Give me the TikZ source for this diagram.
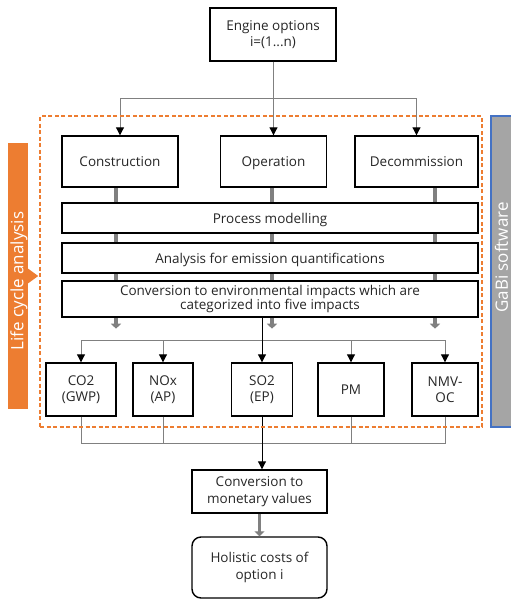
\documentclass[tikz,border=0pt]{standalone}
\usepackage{fontspec}
\setmainfont{Open Sans}
\usetikzlibrary{arrows.meta,backgrounds}

\definecolor{lcaorange}{HTML}{ED7D31}
\definecolor{gabigray}{HTML}{A5A5A5}
\definecolor{gabiblue}{HTML}{4472C4}
\definecolor{linegray}{HTML}{808080}
\definecolor{txtgray}{HTML}{262626}

\begin{document}
\begin{tikzpicture}[x=1pt,y=-1pt,>={Triangle[width=8pt,length=8pt,color=black]},
  font=\fontsize{13.5}{16.5}\selectfont,
  box/.style={draw=black,line width=1.4pt,fill=white,text=txtgray,align=center,
    inner sep=0pt,minimum height=#1},
  box/.default=51pt,
  oneline/.style={text height=12.5pt,text depth=2pt},
  wide/.style={box=30pt,oneline,minimum width=416pt},
  gas/.style={box=53pt},
  link/.style={draw=linegray,line width=1pt},
  fat/.style={draw=linegray,line width=3.5pt,
    -{Triangle[width=10pt,length=5pt,color=linegray]}},
  band/.style={rotate=90,text=white,inner sep=0pt,font=\fontsize{17}{20}\selectfont}]
  \clip (0,0) rectangle (511,600);

  % top level
  \node[box=53pt,minimum width=126pt] (engine) at (273,34.5) {Engine options\\i=(1...n)};
  \node[box,oneline,minimum width=116pt] (constr) at (120,161.5) {Construction};
  \node[box,oneline,minimum width=106pt] (oper) at (273.5,161.5) {Operation};
  \node[box,oneline,minimum width=123pt] (decom) at (416.5,161.5) {Decommission};
  \coordinate (split1) at (273,98);
  \draw[link] (engine) -- (split1);
  \draw[link,->] (split1) -| (constr);
  \draw[link,->] (split1) -| (oper);
  \draw[link,->] (split1) -| (decom);

  % LCA steps
  \node[wide] (proc) at (270,218) {Process modelling};
  \node[wide] (anal) at (270,258) {Analysis for emission quantifications};
  \node[box=36pt,minimum width=416pt] (conv) at (270,299)
    {Conversion to environmental impacts which are\\[-3pt]categorized into five impacts};
  \begin{scope}[on background layer]
    \draw[fat] ([xshift=-4pt]constr.south) -- ++(0,141);
    \draw[fat] ([xshift=-1.5pt]oper.south) -- ++(0,141);
    \draw[fat] ([xshift=18.5pt]decom.south) -- ++(0,141);
  \end{scope}

  % impacts
  \node[gas,minimum width=70pt] (co2) at (81,389.5) {CO2\\(GWP)};
  \node[gas,minimum width=60pt] (nox) at (163,389.5) {NOx\\(AP)};
  \node[gas,minimum width=61pt] (so2) at (262,389.5) {SO2\\(EP)};
  \node[gas,oneline,minimum width=66pt] (pm) at (351,389.5) {PM};
  \node[gas,minimum width=66pt] (nmvoc) at (445,389.5) {NMV-\\OC};
  \coordinate (split2) at (262,340);
  \draw[link,->] (split2) -| (co2);
  \draw[link,->] (split2) -| (nox);
  \draw[link,->] (split2) -| (pm);
  \draw[link,->] (split2) -| (nmvoc);
  \draw[line width=1pt,->] (conv.south -| so2.north) -- (so2.north);

  % monetary part
  \node[box=43pt,minimum width=135pt] (money) at (259.5,491.5) {Conversion to\\monetary values};
  \node[box=61pt,minimum width=135pt,rounded corners=9pt] (cost) at (259.5,567.5)
    {Holistic costs of\\option i};
  \coordinate (join) at (262,443);
  \draw[link] (co2) |- (join);
  \draw[link] (nox) |- (join);
  \draw[link] (pm) |- (join);
  \draw[link] (nmvoc) |- (join);
  \draw[line width=1pt,->] (so2.south) -- (so2.south |- money.north);
  \draw[fat] (money) -- (cost);

  % frames and side bands
  \node[draw=lcaorange,line width=1.3pt,dash pattern=on 4pt off 2.5pt,
    minimum width=442pt,minimum height=311pt] (lca) at (261,271.5) {};
  \node[fill=lcaorange,minimum width=20pt,minimum height=266pt,inner sep=0pt] (lcabar) at (18,276) {};
  \node[band] at ([yshift=-5pt,xshift=1pt]lcabar.center) {Life cycle analysis};
  \fill[lcaorange] (lcabar.east) ++(-1,-8) -- ++(11,8) -- ++(-11,8) -- cycle;
  \node[fill=gabigray,draw=gabiblue,line width=1.2pt,minimum width=22pt,
    minimum height=311pt,inner sep=0pt] (gabi) at (502,271.5) {};
  \node[band] at ([yshift=14pt,xshift=-0.5pt]gabi.center) {GaBi software};
\end{tikzpicture}
\end{document}
